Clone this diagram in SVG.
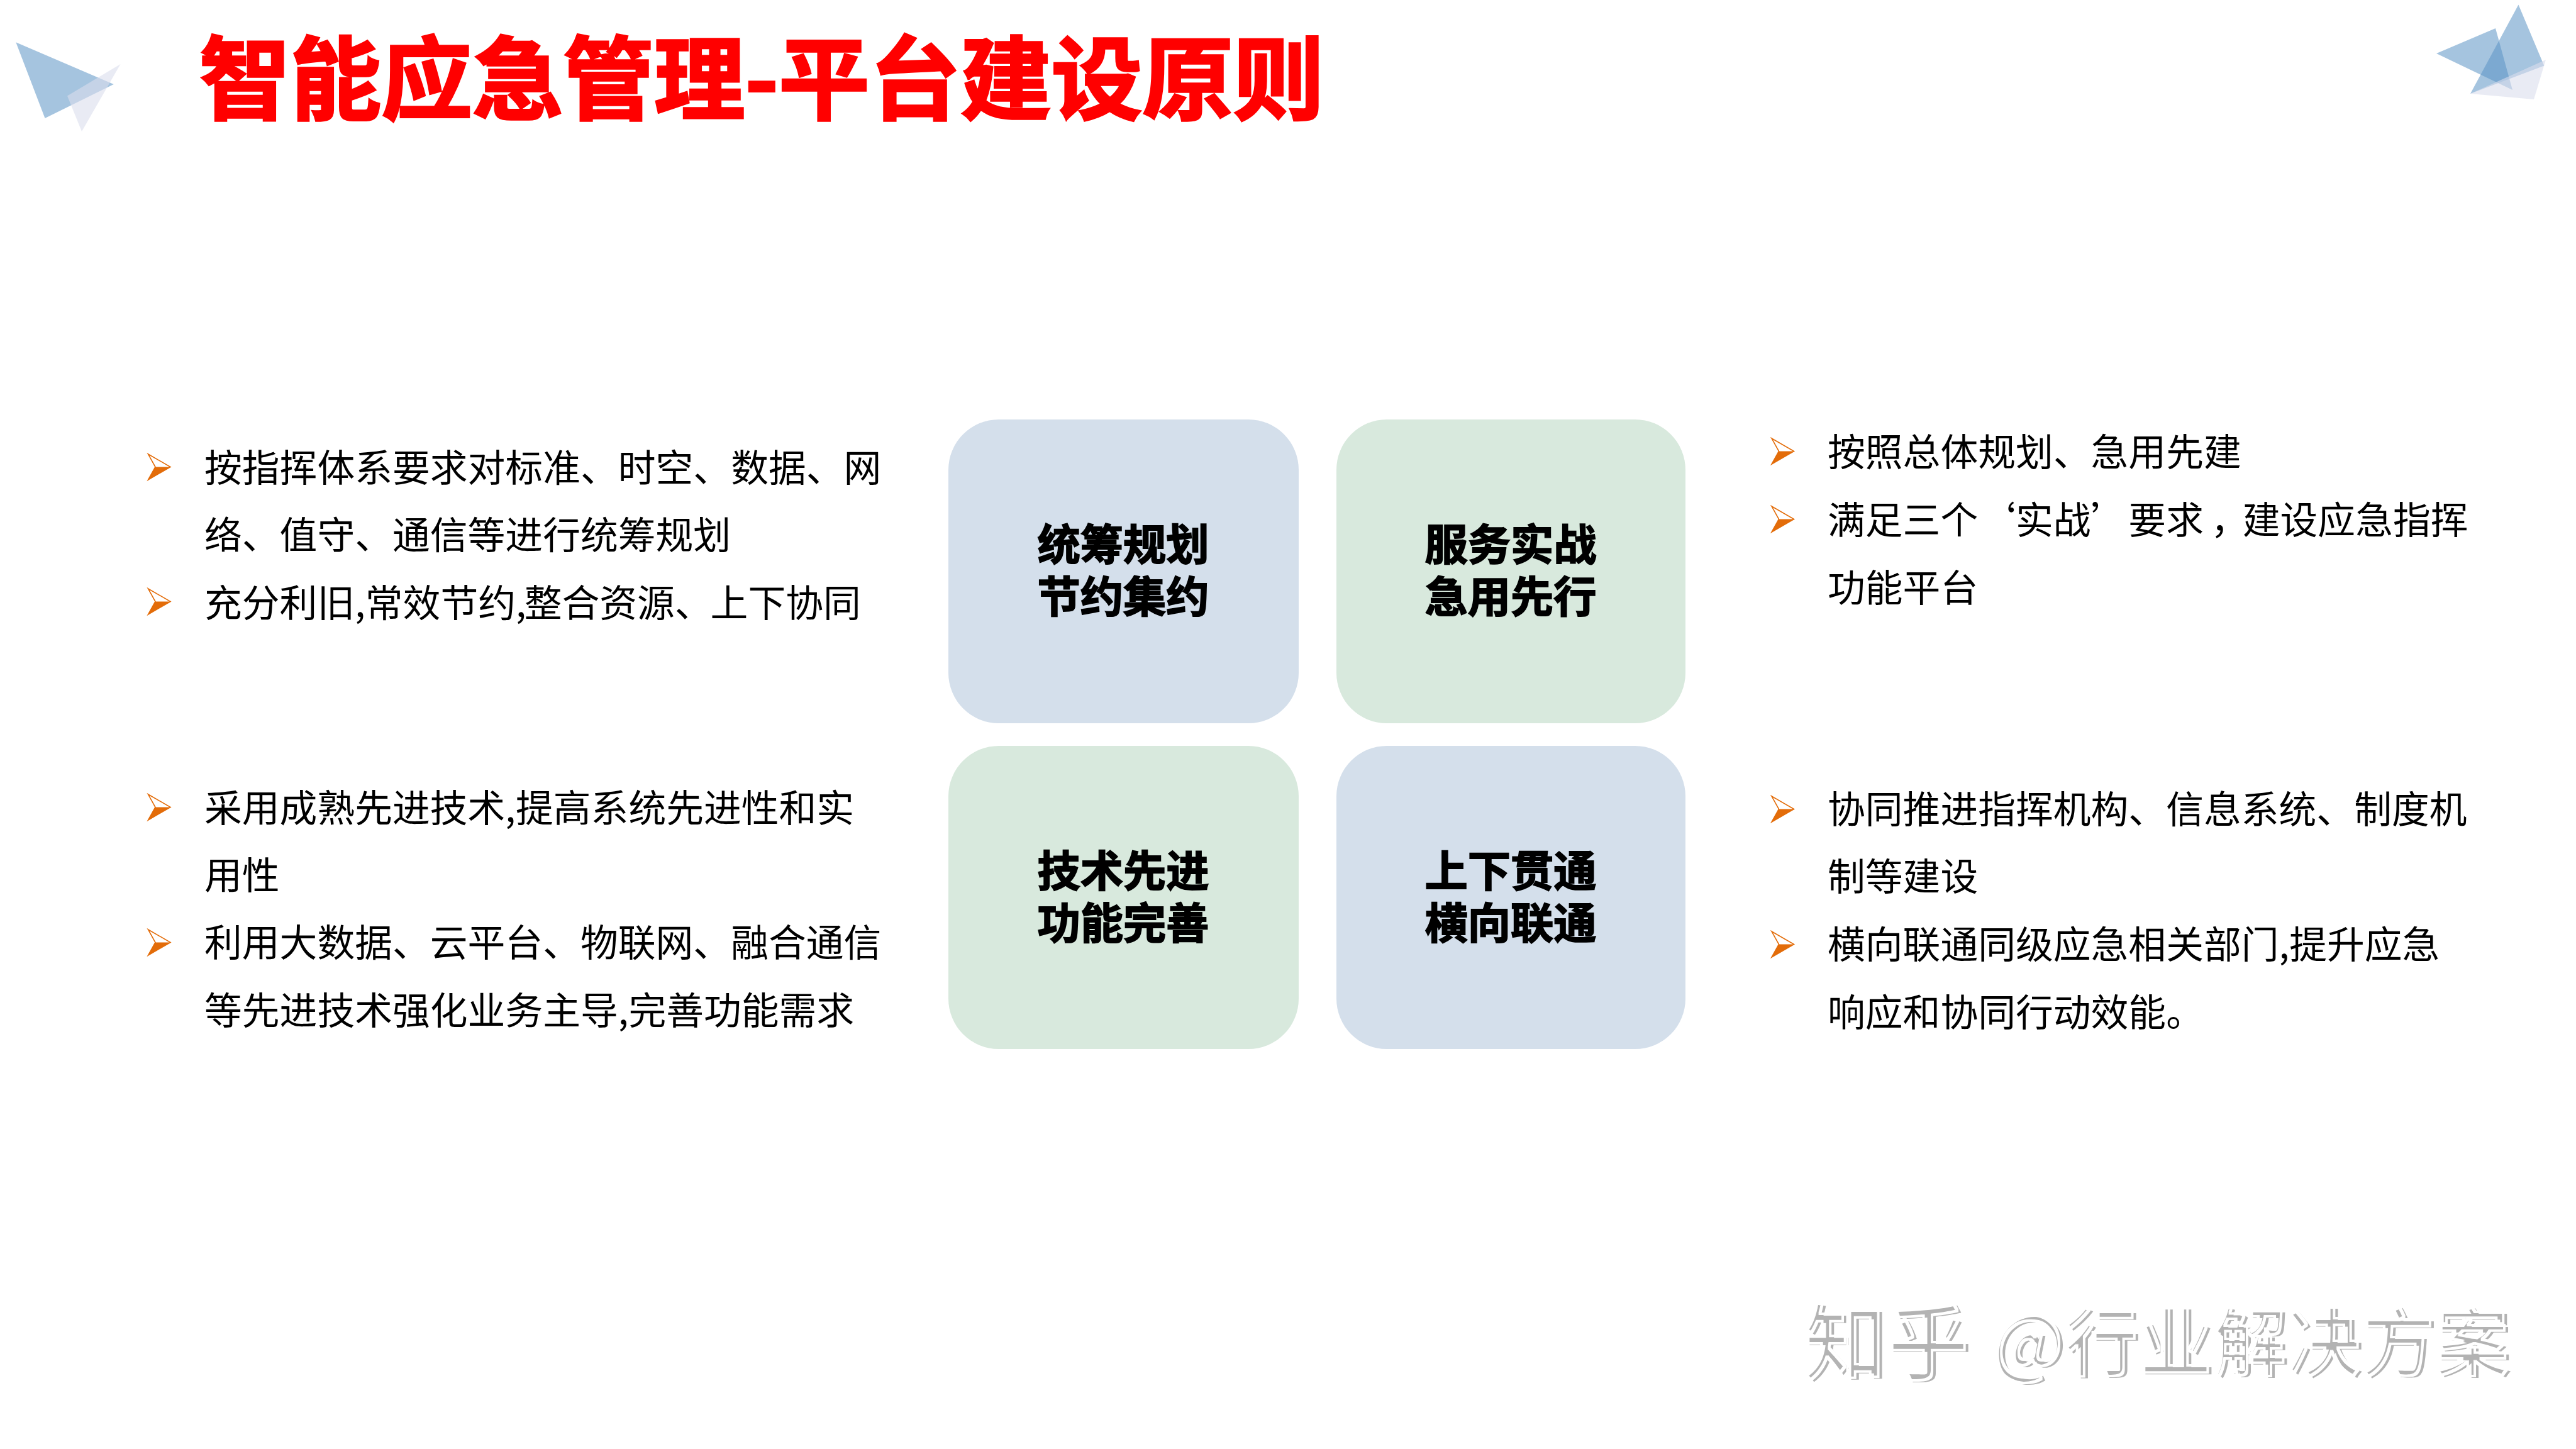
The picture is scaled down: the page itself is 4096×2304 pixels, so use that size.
<svg xmlns="http://www.w3.org/2000/svg" width="4096" height="2304" viewBox="0 0 4096 2304">
<defs>
<style>
text{font-family:"Noto Sans CJK SC","Noto Sans",sans-serif}
.title{font-size:144.6px;font-weight:700;fill:#ff0000;stroke:#ff0000;stroke-width:3.5px}
.body{font-size:59.8px;fill:#000}
.head{font-size:68.3px;font-weight:700;fill:#000;stroke:#000;stroke-width:1.8px;text-anchor:middle}
.wm{fill:#b3b3b3;font-weight:500;filter:url(#cut)}
.s1{font-size:132px}.s2{font-size:118px}
.blue{fill:#d4dfeb}.green{fill:#d8e9dd}
.t1{fill:#5b93c5;fill-opacity:.55}.t2{fill:#dadded;fill-opacity:.6}
</style>
<filter id="cut" filterUnits="userSpaceOnUse" x="2800" y="2000" width="1200" height="260">
<feOffset in="SourceAlpha" dx="-6" dy="-3" result="o"/>
<feMorphology in="o" operator="dilate" radius="1.5" result="outer"/>
<feMorphology in="o" operator="erode" radius="1.5" result="inner"/>
<feComposite in="outer" in2="inner" operator="out" result="edge"/>
<feComposite in="SourceGraphic" in2="edge" operator="out"/>
</filter>
<g id="b"><path d="M0 0L35.5 20.5L0 41L11.5 20.5Z" fill="#fff" stroke="#e36c09" stroke-width="1.6"/><path d="M11.5 20.5H35.5L0 41Z" fill="#e36c09"/></g>
</defs>
<rect width="4096" height="2304" fill="#fff"/>
<g id="deco-left">
<polygon class="t1" points="25.3,67.2 180.8,133.9 71.5,188"/>
<polygon class="t2" points="191.5,102 130,209 107,152.5"/>
</g>
<g id="deco-right">
<polygon class="t1" points="3874,85 3968,45 3995,143"/>
<polygon class="t1" points="4004.5,7.5 4045.3,104.5 3928,149"/>
<polygon class="t2" points="4048,95 4029,158 3928,149"/>
</g>
<text class="title" x="317" y="179">智能应急管理-平台建设原则</text>
<g id="node-left-top">
<use href="#b" x="235.5" y="722"/><use href="#b" x="235.5" y="936"/>
<text class="body" x="325" y="766">按指挥体系要求对标准、时空、数据、网</text>
<text class="body" x="325" y="873">络、值守、通信等进行统筹规划</text>
<text class="body" x="325" y="981">充分利旧,常效节约,<tspan dx="-3">整合资源、</tspan><tspan dx="-3">上下协同</tspan></text>
</g>
<g id="node-left-bottom">
<use href="#b" x="235.5" y="1263"/><use href="#b" x="235.5" y="1478"/>
<text class="body" x="325" y="1307">采用成熟先进技术,提高系统先进性和实</text>
<text class="body" x="325" y="1414">用性</text>
<text class="body" x="325" y="1521">利用大数据、云平台、物联网、融合通信</text>
<text class="body" x="325" y="1629">等先进技术强化业务主导,完善功能需求</text>
</g>
<g id="node-c1"><rect class="blue" x="1508" y="667" width="557" height="483" rx="80"/><text class="head"><tspan x="1786" y="891">统筹规划</tspan><tspan x="1786" y="974">节约集约</tspan></text></g>
<g id="node-c2"><rect class="green" x="2125" y="667" width="555" height="483" rx="80"/><text class="head"><tspan x="2402" y="891">服务实战</tspan><tspan x="2402" y="974">急用先行</tspan></text></g>
<g id="node-c3"><rect class="green" x="1508" y="1186" width="557" height="482" rx="80"/><text class="head"><tspan x="1786" y="1410">技术先进</tspan><tspan x="1786" y="1493">功能完善</tspan></text></g>
<g id="node-c4"><rect class="blue" x="2125" y="1186" width="555" height="482" rx="80"/><text class="head"><tspan x="2402" y="1410">上下贯通</tspan><tspan x="2402" y="1493">横向联通</tspan></text></g>
<g id="node-right-top">
<use href="#b" x="2817" y="697"/><use href="#b" x="2817" y="805"/>
<text class="body" x="2906" y="741">按照总体规划、急用先建</text>
<text class="body" x="2906" y="849">满足三个‘实战’要求<tspan dx="11">，</tspan><tspan dx="-9">建设应急指挥</tspan></text>
<text class="body" x="2906" y="957">功能平台</text>
</g>
<g id="node-right-bottom">
<use href="#b" x="2817" y="1266"/><use href="#b" x="2817" y="1481"/>
<text class="body" x="2906" y="1309">协同推进指挥机构、信息系统、制度机</text>
<text class="body" x="2906" y="1416">制等建设</text>
<text class="body" x="2906" y="1524">横向联通同级应急相关部门,提升应急</text>
<text class="body" x="2906" y="1632">响应和协同行动效能。</text>
</g>
<g id="watermark">
<text class="wm"><tspan class="s1" x="2872" y="2186">知乎</tspan><tspan class="s2" x="3172" y="2181">@行业解决方案</tspan></text>
</g>
<g id="connectors"/>
</svg>
